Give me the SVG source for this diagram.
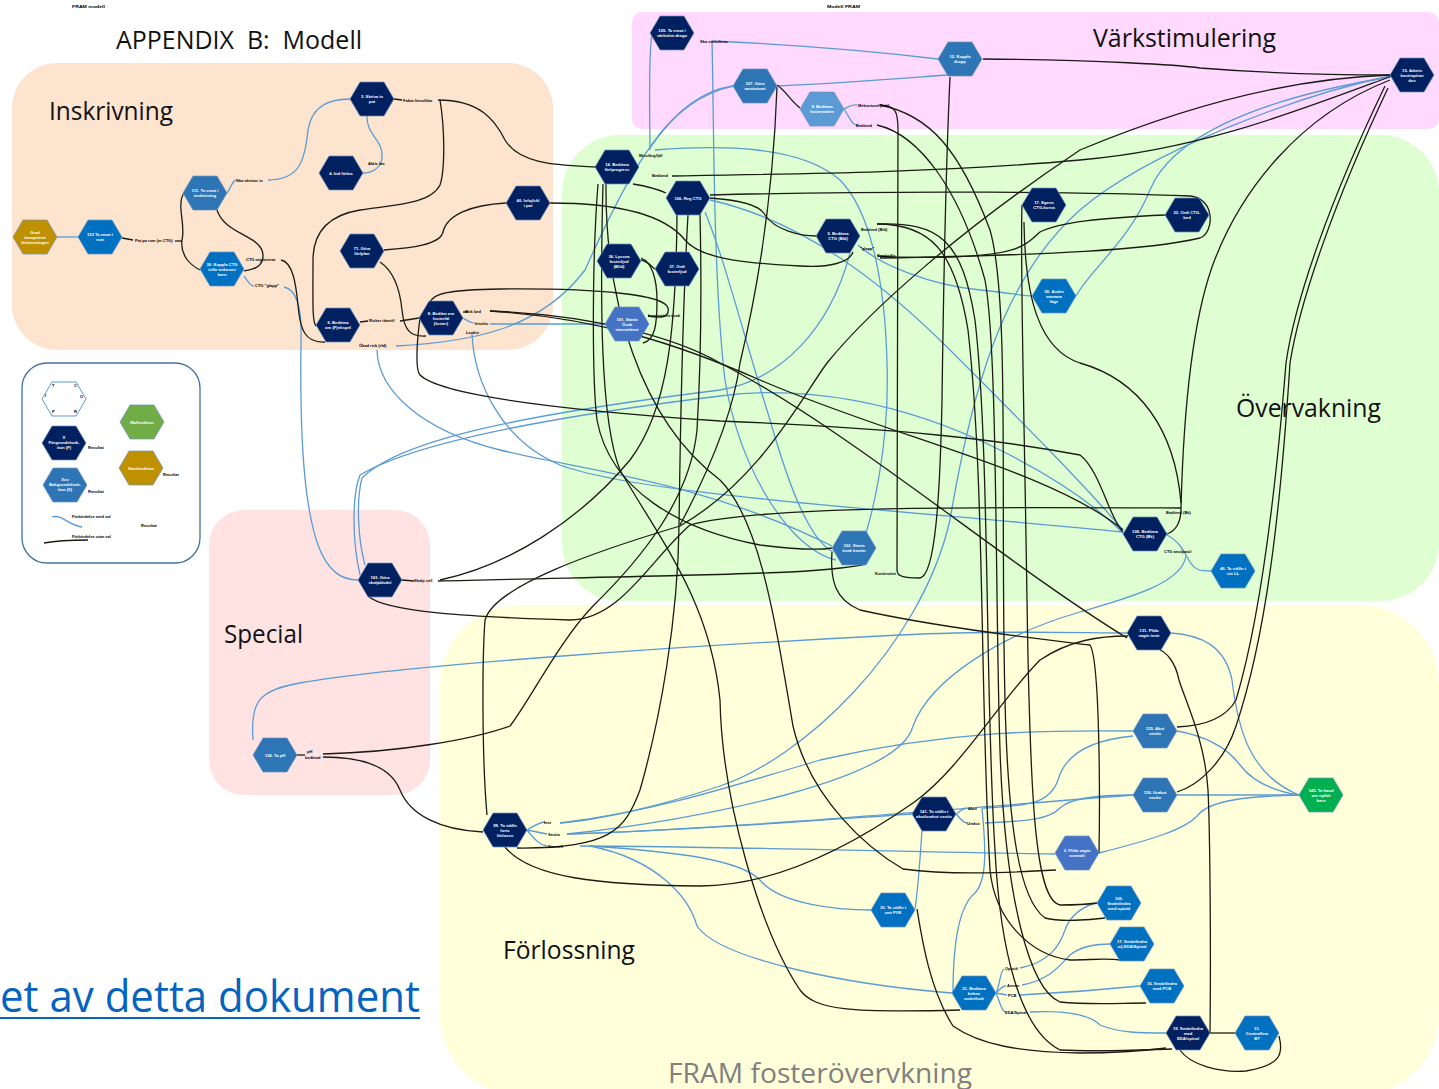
<svg xmlns="http://www.w3.org/2000/svg" xmlns:xlink="http://www.w3.org/1999/xlink" width="1439" height="1089" viewBox="0 0 1439 1089">
<style>
.k{fill:none;stroke:#1c1c14;stroke-width:1.3}
.b{fill:none;stroke:#5B9BD5;stroke-width:1.3}
.hx{stroke:#6f93bf;stroke-width:0.7}
.navy{fill:#002060}.c1{fill:#2E75B6}.c2{fill:#0070C0}.c3{fill:#4472C4}.c4{fill:#5B9BD5}.grn{fill:#00B050}.lg{fill:#70AD47}.gold{fill:#BF9000}
.n{font-family:"Liberation Sans",Arial,sans-serif;font-size:4.2px;font-weight:bold;fill:#fff;text-anchor:middle}
.l{font-family:"Liberation Sans",Arial,sans-serif;font-size:4px;font-weight:bold;fill:#000}
.h{font-family:"Open Sans","Liberation Sans",sans-serif;fill:#111}
</style>
<defs>
<polygon id="hx" points="-22,0 -12,-17 12,-17 22,0 12,17 -12,17"/>
</defs>
<rect width="1439" height="1089" fill="#fff"/>
<g id="regions">
<rect x="12" y="63" width="541" height="287" rx="45" fill="#FCE4CE"/>
<rect x="632" y="12" width="807" height="117" rx="10" fill="#FFD9FF"/>
<rect x="562" y="135" width="877" height="466" rx="58" fill="#DFFFD3"/>
<rect x="209" y="510" width="221" height="285" rx="35" fill="#FFE3E3"/>
<rect x="440" y="605" width="999" height="490" rx="80" fill="#FFFFDA"/>
<rect x="22" y="363" width="178" height="200" rx="25" fill="#fff" stroke="#41719C" stroke-width="1.3"/>
</g>
<g id="titles">
<text class="h" x="116" y="49" font-size="26" xml:space="preserve" textLength="246" lengthAdjust="spacingAndGlyphs">APPENDIX  B:  Modell</text>
<text class="h" x="49" y="120" font-size="26" textLength="124" lengthAdjust="spacingAndGlyphs">Inskrivning</text>
<text class="h" x="1093" y="47" font-size="26" textLength="183" lengthAdjust="spacingAndGlyphs">Värkstimulering</text>
<text class="h" x="1236" y="417" font-size="26" textLength="145" lengthAdjust="spacingAndGlyphs">Övervakning</text>
<text class="h" x="224" y="643" font-size="26" textLength="79" lengthAdjust="spacingAndGlyphs">Special</text>
<text class="h" x="503" y="959" font-size="26" textLength="132" lengthAdjust="spacingAndGlyphs">Förlossning</text>
<text class="h" x="668" y="1083" font-size="27" style="fill:#808080" textLength="304" lengthAdjust="spacingAndGlyphs">FRAM fosterövervkning</text>
<text class="h" x="0" y="1012" font-size="44" style="fill:#0563C1" textLength="420" lengthAdjust="spacingAndGlyphs">et av detta dokument</text>
<line x1="0" y1="1018" x2="420" y2="1018" stroke="#0563C1" stroke-width="2"/>
<text class="l" x="72" y="8" font-size="3" textLength="33" lengthAdjust="spacingAndGlyphs">FRAM modell</text>
<text class="l" x="827" y="8" font-size="3" textLength="33" lengthAdjust="spacingAndGlyphs">Modell FRAM</text>
</g>
<g id="connectors">
<path class="b" d="M57,237 L78,237"/>
<path class="b" d="M227,193 C231,188 232,181 236,180"/>
<path class="b" d="M268,180 C300,180 305,160 308,130 C312,105 330,99 350,99"/>
<path class="b" d="M367,116 C366,135 384,140 382,158 C381,168 372,173 363,173"/>
<path class="b" d="M244,276 C249,283 251,286 254,286"/>
<path class="b" d="M284,287 C298,290 302,310 301,340 C300,420 302,500 318,545 C328,572 342,580 358,580"/>
<path class="b" d="M396,346 C470,342 540,330 585,270 C630,170 670,95 733,86"/>
<path class="b" d="M463,318 C468,321 470,323 474,323"/>
<path class="b" d="M490,324 L605,324"/>
<path class="b" d="M472,334 C474,380 500,440 560,465 C640,495 900,510 1123,532"/>
<path class="b" d="M377,350 C378,390 420,430 500,450 C580,470 700,480 832,546"/>
<path class="b" d="M652,33 C648,60 650,130 650,150"/>
<path class="b" d="M650,148 C665,125 690,95 733,86"/>
<path class="b" d="M712,41 C800,45 880,52 938,59"/>
<path class="b" d="M712,41 C714,120 713,280 725,380 C740,470 790,550 836,560"/>
<path class="b" d="M777,86 C830,84 880,80 948,75"/>
<path class="b" d="M844,109 C850,106 852,104 857,105"/>
<path class="b" d="M844,109 C850,118 852,125 857,125"/>
<path class="b" d="M1390,76 C1300,95 1150,150 1080,210 C1000,280 970,400 950,520 C920,650 800,760 720,786 C660,806 600,820 560,823"/>
<path class="b" d="M1390,77 C1250,100 1170,140 1150,190 C1130,240 1090,270 1076,296"/>
<path class="b" d="M858,245 C880,265 930,285 980,290 C1010,293 1025,296 1032,296"/>
<path class="b" d="M655,150 C720,145 800,145 840,180 C870,210 885,280 887,363 C890,450 870,520 866,533"/>
<path class="b" d="M710,200 C800,220 880,280 950,350 C1020,420 1080,480 1123,530"/>
<path class="b" d="M1167,535 C1182,543 1186,556 1190,562 C1195,570 1200,571 1211,571"/>
<path class="b" d="M1186,556 C1182,585 1120,600 1080,612 C1000,635 930,680 913,726 C900,780 700,820 567,834"/>
<path class="b" d="M365,565 C358,540 356,500 362,478 C400,440 520,415 720,390 C780,380 830,330 850,253"/>
<path class="b" d="M360,575 C352,540 352,495 360,475 C410,445 540,418 720,396 C800,385 900,400 1000,450 C1060,480 1100,510 1123,533"/>
<path class="b" d="M705,212 C725,260 745,340 770,420 C790,490 810,540 833,552"/>
<path class="b" d="M253,740 C250,700 260,690 300,683 C400,665 700,645 900,635 C1000,630 1080,633 1127,633"/>
<path class="b" d="M560,823 C650,812 720,790 820,760 C950,730 1050,730 1133,731"/>
<path class="b" d="M567,834 C700,830 850,818 912,814"/>
<path class="b" d="M567,834 C750,828 1000,805 1133,795"/>
<path class="b" d="M580,846 C700,846 900,852 1055,854"/>
<path class="b" d="M590,846 C680,852 740,860 760,880 C780,905 840,910 871,910"/>
<path class="b" d="M590,846 C660,860 690,900 697,926 C720,960 850,985 952,993"/>
<path class="b" d="M956,814 C962,810 963,808 967,808"/>
<path class="b" d="M956,814 C962,820 963,823 967,823"/>
<path class="b" d="M983,808 C1030,806 1050,803 1058,780 C1065,755 1090,740 1133,736"/>
<path class="b" d="M985,823 C1030,821 1050,819 1060,808 C1070,798 1100,795 1133,795"/>
<path class="b" d="M922,831 C920,860 918,890 915,909"/>
<path class="b" d="M982,808 C986,850 987,880 975,893 C960,905 953,940 953,993"/>
<path class="b" d="M996,993 C1000,985 1000,971 1004,969"/>
<path class="b" d="M996,993 C1000,989 1002,986 1006,986"/>
<path class="b" d="M996,993 L1007,995"/>
<path class="b" d="M996,993 C1000,1002 1001,1010 1005,1012"/>
<path class="b" d="M1020,968 C1050,962 1060,945 1065,930 C1070,915 1085,905 1097,903"/>
<path class="b" d="M1022,985 C1050,980 1060,965 1070,955 C1080,947 1095,944 1110,944"/>
<path class="b" d="M1020,995 C1060,993 1100,990 1140,986"/>
<path class="b" d="M1030,1012 C1070,1010 1090,1015 1100,1025 C1120,1033 1140,1033 1166,1033"/>
<path class="b" d="M1177,731 C1200,735 1225,745 1240,765 C1255,785 1280,792 1299,795"/>
<path class="b" d="M1177,795 L1299,795"/>
<path class="b" d="M1099,853 C1150,840 1185,830 1198,815 C1210,800 1250,796 1299,795"/>
<path class="b" d="M1171,633 C1200,635 1225,645 1232,680 C1238,730 1250,775 1299,795"/>
<path class="b" d="M527,830 C535,825 540,822 545,822"/>
<path class="b" d="M527,830 L547,834"/>
<path class="b" d="M527,830 C535,840 540,845 547,846"/>
<path class="k" d="M122,238 L133,240"/>
<path class="k" d="M175,241 L182,241"/>
<path class="k" d="M184,193 C176,205 186,225 182,240 C180,255 190,265 200,270"/>
<path class="k" d="M217,210 C225,235 262,235 263,255 C264,268 250,270 244,271"/>
<path class="k" d="M281,260 C293,262 296,285 298,305 C300,330 305,343 325,342"/>
<path class="k" d="M394,99 L402,100"/>
<path class="k" d="M438,100 C480,100 495,120 505,140 C520,165 560,165 596,167"/>
<path class="k" d="M440,100 C445,130 445,170 440,185 C430,205 390,205 360,210 C330,215 313,230 313,260 C313,300 312,322 316,326"/>
<path class="k" d="M384,250 C410,248 440,245 443,232 C447,215 470,205 506,203"/>
<path class="k" d="M380,262 C395,272 400,290 402,310 C404,330 410,337 426,336"/>
<path class="k" d="M360,322 L368,321"/>
<path class="k" d="M400,321 L419,318"/>
<path class="k" d="M550,203 C620,203 665,215 685,240 C700,258 740,263 800,266 C830,268 850,262 853,252"/>
<path class="k" d="M430,303 C432,293 450,290 500,289 C600,288 665,295 668,308 C670,318 660,318 648,316"/>
<path class="k" d="M420,318 C417,340 415,370 420,375 C440,395 560,410 720,421 C900,428 1000,440 1080,455 C1100,470 1110,520 1123,532"/>
<path class="k" d="M490,311 C600,315 680,340 720,363 C850,430 1000,560 1127,638"/>
<path class="k" d="M490,311 C600,318 680,345 760,380 C900,440 1050,470 1123,530"/>
<path class="k" d="M463,312 L468,312"/>
<path class="k" d="M633,184 C645,186 655,188 666,193"/>
<path class="k" d="M672,176 C800,174 950,172 1080,160 C1200,150 1300,110 1392,76"/>
<path class="k" d="M710,195 C900,190 1100,192 1190,196 C1215,198 1215,232 1200,238 C1150,250 1050,255 880,258"/>
<path class="k" d="M710,198 C740,200 760,205 765,215 C775,230 800,236 816,236"/>
<path class="k" d="M1165,215 C1100,218 1060,222 1040,232 C1025,245 1020,255 950,257 C900,258 885,257 878,256"/>
<path class="k" d="M598,184 C592,260 592,380 597,420 C610,490 680,530 760,545 C800,550 820,550 832,548"/>
<path class="k" d="M603,184 C600,300 600,420 620,470 C660,540 710,600 720,700 C722,800 760,930 800,990 C815,1010 850,1013 960,1010"/>
<path class="k" d="M606,184 C605,300 640,420 720,480 C760,520 775,620 793,726 C810,800 870,850 903,869 C950,875 1000,873 1056,870"/>
<path class="k" d="M688,215 C683,300 680,450 679,526 C678,620 660,720 640,790 C625,830 610,849 517,848"/>
<path class="k" d="M700,214 C702,300 700,380 697,430 C690,500 640,560 593,606 C560,640 530,700 510,726 C470,740 400,752 323,754"/>
<path class="k" d="M323,757 C360,757 390,765 400,790 C410,815 440,830 483,832"/>
<path class="k" d="M438,581 C550,578 700,576 790,572 C830,570 860,566 866,564"/>
<path class="k" d="M440,580 C510,565 580,520 630,460 C668,410 676,330 677,215"/>
<path class="k" d="M368,596 C385,612 470,617 570,620 C620,620 650,560 690,525 C760,505 1000,507 1181,508"/>
<path class="k" d="M1181,508 C1183,430 1190,330 1212,267 C1240,190 1300,115 1390,80"/>
<path class="k" d="M1385,86 C1330,200 1295,300 1286,363 C1275,500 1260,620 1236,700 C1225,720 1200,726 1177,727"/>
<path class="k" d="M1388,88 C1335,200 1300,300 1290,363 C1280,520 1265,640 1236,726 C1225,760 1200,785 1177,792"/>
<path class="k" d="M1167,534 C1178,530 1181,520 1181,508"/>
<path class="k" d="M487,815 C482,760 482,660 485,620 C495,585 600,550 680,526 C760,480 800,400 827,363 C870,310 960,230 1080,150 C1200,100 1300,78 1390,75"/>
<path class="k" d="M505,847 C530,878 600,885 700,886 C780,886 860,840 913,803 C960,770 1000,700 1040,660 C1070,640 1100,636 1128,636"/>
<path class="k" d="M777,87 C774,170 763,267 740,363 C735,400 720,450 680,525"/>
<path class="k" d="M777,85 C785,90 790,100 800,108"/>
<path class="k" d="M983,59 C1100,60 1180,65 1200,68 C1250,72 1330,75 1390,75"/>
<path class="k" d="M880,105 C895,106 898,110 898,130 L897,570 C897,577 905,578 920,578 C935,575 940,500 942,400 C944,250 948,120 950,77"/>
<path class="k" d="M880,105 C930,115 960,150 990,230 C1010,300 1000,500 1005,700 C1008,830 1020,900 1045,918 C1060,922 1090,920 1105,918"/>
<path class="k" d="M877,125 C920,135 960,190 985,280 C998,350 995,600 1000,750 C1005,900 1030,990 1060,1002 C1090,1005 1120,1003 1146,1003"/>
<path class="k" d="M877,224 C940,222 962,240 975,320 C990,450 985,700 995,850 C1000,950 1020,1030 1060,1050 C1100,1052 1140,1050 1172,1049"/>
<path class="k" d="M877,224 C930,224 955,250 968,330 C985,480 980,700 990,870 C995,920 1030,955 1070,960 C1090,960 1105,958 1120,960"/>
<path class="k" d="M1024,222 C1025,300 1040,350 1080,363 C1140,380 1175,430 1181,503"/>
<path class="k" d="M1022,205 C1020,260 1024,400 1027,600 C1030,800 1035,900 1060,905 C1080,905 1090,904 1097,903"/>
<path class="k" d="M832,552 C830,580 835,600 860,610 C950,630 1050,640 1090,645 C1100,660 1100,800 1099,853"/>
<path class="k" d="M641,260 C650,262 652,268 655,269"/>
<path class="k" d="M641,258 C652,262 657,280 657,300 C657,325 655,340 643,343"/>
<path class="k" d="M917,909 C922,940 930,990 953,1026 C980,1045 1020,1052 1080,1053 C1120,1053 1150,1050 1166,1048"/>
<path class="k" d="M1210,1033 L1235,1033"/>
<path class="k" d="M1279,1036 C1284,1055 1280,1065 1246,1071 C1220,1073 1190,1065 1180,1050"/>
<path class="k" d="M1210,1033 C1211,950 1210,830 1208,790 C1205,740 1185,700 1179,680 C1175,660 1165,652 1160,650"/>
<path class="k" d="M402,580 L414,581"/>
<path class="k" d="M297,755 L305,755"/>
<path class="b" d="M52,517 C62,514 68,525 82,527"/>
<path class="k" d="M44,543 C60,540 75,540 88,540"/>
</g>
<g id="labels">
<text class="l" x="135" y="242">Pat på rum (m CTG)</text>
<text class="l" x="236" y="182">Ska skrivas in</text>
<text class="l" x="246" y="261">CTG registrerat</text>
<text class="l" x="255" y="287">CTG "glapp"</text>
<text class="l" x="403" y="102">Fakta finns/klar</text>
<text class="l" x="368" y="165">Aktiv fas</text>
<text class="l" x="369" y="322">Risker identif</text>
<text class="l" x="359" y="347">Ökad risk (rfd)</text>
<text class="l" x="465" y="313">Mvk bed</text>
<text class="l" x="475" y="325">Intuitiv</text>
<text class="l" x="466" y="334">Lockin</text>
<text class="l" x="648" y="317">Intermittent övak</text>
<text class="l" x="639" y="157">Missfärg/fjäl</text>
<text class="l" x="652" y="177">Bedömd</text>
<text class="l" x="700" y="43">Ska stimuleras</text>
<text class="l" x="858" y="107">Mekonium/fjäskl</text>
<text class="l" x="856" y="127">Bedömd</text>
<text class="l" x="861" y="231">Bedömd (Bld)</text>
<text class="l" x="860" y="250">"glapp"</text>
<text class="l" x="877" y="257">Kontin/fix</text>
<text class="l" x="1166" y="514">Bedömd (Bk)</text>
<text class="l" x="1164" y="553">CTG ano/patol</text>
<text class="l" x="875" y="575">Kontinuitet</text>
<text class="l" x="414" y="582">Skalp sell</text>
<text class="l" x="307" y="753">pH</text>
<text class="l" x="305" y="759">bedömd</text>
<text class="l" x="544" y="824">Inst</text>
<text class="l" x="548" y="836">Sectio</text>
<text class="l" x="548" y="848">Normell</text>
<text class="l" x="968" y="810">Akut</text>
<text class="l" x="967" y="825">Urakut</text>
<text class="l" x="1005" y="970">Opioid</text>
<text class="l" x="1007" y="987">Annan</text>
<text class="l" x="1008" y="997">PCB</text>
<text class="l" x="1005" y="1014">EDA/Spinal</text>
<text class="l" x="88" y="449">Resultat</text>
<text class="l" x="88" y="493">Resultat</text>
<text class="l" x="163" y="476">Resultat</text>
<text class="l" x="141" y="527">Resultat</text>
<text class="l" x="72" y="518">Förbindelse med val</text>
<text class="l" x="72" y="538">Förbindelse utan val</text>
</g>
<g id="legend">
<g id="lg-tcio" transform="translate(64,399)"><use href="#hx" fill="#fff" stroke="#5B9BD5" stroke-width="1"/>
<text class="l" x="-12" y="-12" font-size="3.5">T</text><text class="l" x="10" y="-12" font-size="3.5">C</text><text class="l" x="-19" y="-2" font-size="3.5">I</text><text class="l" x="16" y="-1" font-size="3.5">O</text><text class="l" x="-12" y="14" font-size="3.5">P</text><text class="l" x="10" y="14" font-size="3.5">R</text></g>
<g id="lg-f" transform="translate(64,443)"><use href="#hx" class="navy hx"/><text class="n"><tspan x="0" y="-4">X</tspan><tspan x="0" y="1">Förgrundsfunk-</tspan><tspan x="0" y="6">tion (F)</tspan></text></g>
<g id="lg-s" transform="translate(65,485)"><use href="#hx" class="c1 hx"/><text class="n"><tspan x="0" y="-4">Xxx</tspan><tspan x="0" y="1">Bakgrundsfunk-</tspan><tspan x="0" y="6">tion (S)</tspan></text></g>
<g id="lg-m" transform="translate(142,422)"><use href="#hx" class="lg hx"/><text class="n"><tspan x="0" y="1.5">Målfunktion</tspan></text></g>
<g id="lg-st" transform="translate(141,468)"><use href="#hx" class="gold hx"/><text class="n"><tspan x="0" y="1.5">Startfunktion</tspan></text></g>
</g>
<g id="nodes">
<g id="nStart" transform="translate(35,237)"><use href="#hx" class="gold hx"/><text class="n"><tspan x="0" y="-3.5">Grad</tspan><tspan x="0" y="1.5">kompetent</tspan><tspan x="0" y="6.5">förlossningen</tspan></text></g>
<g id="n110" transform="translate(100,237)"><use href="#hx" class="c2 hx"/><text class="n"><tspan x="0" y="-1">110 Ta emot i</tspan><tspan x="0" y="4">rum</tspan></text></g>
<g id="n111" transform="translate(205,193)"><use href="#hx" class="c1 hx"/><text class="n"><tspan x="0" y="-1">111. Ta emot i</tspan><tspan x="0" y="4">inskrivning</tspan></text></g>
<g id="n30" transform="translate(222,269)"><use href="#hx" class="c2 hx"/><text class="n"><tspan x="0" y="-3.5">30. Koppla CTG</tspan><tspan x="0" y="1.5">inför ankomst</tspan><tspan x="0" y="6.5">barn</tspan></text></g>
<g id="n3" transform="translate(372,99)"><use href="#hx" class="navy hx"/><text class="n"><tspan x="0" y="-1">3. Skriva in</tspan><tspan x="0" y="4">pat</tspan></text></g>
<g id="n4" transform="translate(341,173)"><use href="#hx" class="navy hx"/><text class="n"><tspan x="0" y="1.5">4. Ind förlos</tspan></text></g>
<g id="n71" transform="translate(362,251)"><use href="#hx" class="navy hx"/><text class="n"><tspan x="0" y="-1">71. Göra</tspan><tspan x="0" y="4">förlplan</tspan></text></g>
<g id="n40" transform="translate(528,203)"><use href="#hx" class="navy hx"/><text class="n"><tspan x="0" y="-1">40. Infoj/skl</tspan><tspan x="0" y="4">i pat</tspan></text></g>
<g id="n6" transform="translate(338,325)"><use href="#hx" class="navy hx"/><text class="n"><tspan x="0" y="-1">6. Bedöma</tspan><tspan x="0" y="4">om (F)nkspel</tspan></text></g>
<g id="n8" transform="translate(441,318)"><use href="#hx" class="navy hx"/><text class="n"><tspan x="0" y="-3.5">8. Bedöm om</tspan><tspan x="0" y="1.5">fosterläl</tspan><tspan x="0" y="6.5">(foster)</tspan></text></g>
<g id="n101" transform="translate(627,324)"><use href="#hx" class="c3 hx"/><text class="n"><tspan x="0" y="-3.5">101. Starta</tspan><tspan x="0" y="1.5">Övak</tspan><tspan x="0" y="6.5">intermittent</tspan></text></g>
<g id="n14" transform="translate(617,167)"><use href="#hx" class="navy hx"/><text class="n"><tspan x="0" y="-1">14. Bedöma</tspan><tspan x="0" y="4">förlprogress</tspan></text></g>
<g id="n106" transform="translate(688,198)"><use href="#hx" class="navy hx"/><text class="n"><tspan x="0" y="1.5">106. Reg CTG</tspan></text></g>
<g id="n36" transform="translate(619,261)"><use href="#hx" class="navy hx"/><text class="n"><tspan x="0" y="-3.5">36. Lyssna</tspan><tspan x="0" y="1.5">fosterljud</tspan><tspan x="0" y="6.5">(Bild)</tspan></text></g>
<g id="n37" transform="translate(677,269)"><use href="#hx" class="navy hx"/><text class="n"><tspan x="0" y="-1">37. Ordi</tspan><tspan x="0" y="4">fosterljud</tspan></text></g>
<g id="n105" transform="translate(672,33)"><use href="#hx" class="navy hx"/><text class="n"><tspan x="0" y="-1">105. Ta emot i</tspan><tspan x="0" y="4">värkstim drogo</tspan></text></g>
<g id="n107" transform="translate(755,86)"><use href="#hx" class="c1 hx"/><text class="n"><tspan x="0" y="-1">107. Göra</tspan><tspan x="0" y="4">amniotomi</tspan></text></g>
<g id="n9" transform="translate(822,109)"><use href="#hx" class="c4 hx"/><text class="n"><tspan x="0" y="-1">9. Bedöma</tspan><tspan x="0" y="4">fostervatten</tspan></text></g>
<g id="n12" transform="translate(960,59)"><use href="#hx" class="c1 hx"/><text class="n"><tspan x="0" y="-1">12. Koppla</tspan><tspan x="0" y="4">dropp</tspan></text></g>
<g id="n15" transform="translate(1412,75)"><use href="#hx" class="navy hx"/><text class="n"><tspan x="0" y="-3.5">15. Admin</tspan><tspan x="0" y="1.5">kontraption</tspan><tspan x="0" y="6.5">dos</tspan></text></g>
<g id="n5" transform="translate(838,236)"><use href="#hx" class="navy hx"/><text class="n"><tspan x="0" y="-1">5. Bedöma</tspan><tspan x="0" y="4">CTG (Bld)</tspan></text></g>
<g id="n17" transform="translate(1044,205)"><use href="#hx" class="navy hx"/><text class="n"><tspan x="0" y="-1">17. Egens</tspan><tspan x="0" y="4">CTG-kurva</tspan></text></g>
<g id="n22" transform="translate(1187,215)"><use href="#hx" class="navy hx"/><text class="n"><tspan x="0" y="-1">22. Ordi CTG-</tspan><tspan x="0" y="4">bed</tspan></text></g>
<g id="n50" transform="translate(1054,296)"><use href="#hx" class="c2 hx"/><text class="n"><tspan x="0" y="-3.5">50. Ändra</tspan><tspan x="0" y="1.5">mamma</tspan><tspan x="0" y="6.5">läge</tspan></text></g>
<g id="n102" transform="translate(854,548)"><use href="#hx" class="c1 hx"/><text class="n"><tspan x="0" y="-1">102. Starta</tspan><tspan x="0" y="4">övak kontin</tspan></text></g>
<g id="n108" transform="translate(1145,534)"><use href="#hx" class="navy hx"/><text class="n"><tspan x="0" y="-1">108. Bedöma</tspan><tspan x="0" y="4">CTG (Bk)</tspan></text></g>
<g id="n46" transform="translate(1233,571)"><use href="#hx" class="c2 hx"/><text class="n"><tspan x="0" y="-1">46. Ta ställn t</tspan><tspan x="0" y="4">sin LL</tspan></text></g>
<g id="n103" transform="translate(380,580)"><use href="#hx" class="navy hx"/><text class="n"><tspan x="0" y="-1">103. Göra</tspan><tspan x="0" y="4">skalpblodsl</tspan></text></g>
<g id="n134" transform="translate(275,755)"><use href="#hx" class="c1 hx"/><text class="n"><tspan x="0" y="1.5">134. Ta pH</tspan></text></g>
<g id="n131" transform="translate(1149,633)"><use href="#hx" class="navy hx"/><text class="n"><tspan x="0" y="-1">131. Pilda</tspan><tspan x="0" y="4">vagin instr</tspan></text></g>
<g id="n135" transform="translate(1155,731)"><use href="#hx" class="c1 hx"/><text class="n"><tspan x="0" y="-1">135. Akut</tspan><tspan x="0" y="4">sectio</tspan></text></g>
<g id="n136" transform="translate(1155,795)"><use href="#hx" class="c1 hx"/><text class="n"><tspan x="0" y="-1">136. Urakut</tspan><tspan x="0" y="4">sectio</tspan></text></g>
<g id="n145" transform="translate(1321,795)"><use href="#hx" class="grn hx"/><text class="n"><tspan x="0" y="-3.5">145. Ta hand</tspan><tspan x="0" y="1.5">om nyfött</tspan><tspan x="0" y="6.5">barn</tspan></text></g>
<g id="n2" transform="translate(1077,853)"><use href="#hx" class="c3 hx"/><text class="n"><tspan x="0" y="-1">2. Pilda vagin</tspan><tspan x="0" y="4">normalt</tspan></text></g>
<g id="n99" transform="translate(505,830)"><use href="#hx" class="navy hx"/><text class="n"><tspan x="0" y="-3.5">99. Ta ställn</tspan><tspan x="0" y="1.5">forts</tspan><tspan x="0" y="6.5">förlossn</tspan></text></g>
<g id="n141" transform="translate(934,814)"><use href="#hx" class="navy hx"/><text class="n"><tspan x="0" y="-1">141. Ta ställn t</tspan><tspan x="0" y="4">akut/urakut sectio</tspan></text></g>
<g id="n33" transform="translate(893,910)"><use href="#hx" class="c2 hx"/><text class="n"><tspan x="0" y="-1">33. Ta ställn t</tspan><tspan x="0" y="4">smt PVK</tspan></text></g>
<g id="n21" transform="translate(974,993)"><use href="#hx" class="c2 hx"/><text class="n"><tspan x="0" y="-3.5">21. Bedöma</tspan><tspan x="0" y="1.5">behov</tspan><tspan x="0" y="6.5">smärtlindr</tspan></text></g>
<g id="n100" transform="translate(1119,903)"><use href="#hx" class="c2 hx"/><text class="n"><tspan x="0" y="-3.5">100.</tspan><tspan x="0" y="1.5">Smärtlindra</tspan><tspan x="0" y="6.5">med opioid</tspan></text></g>
<g id="n17b" transform="translate(1132,944)"><use href="#hx" class="c2 hx"/><text class="n"><tspan x="0" y="-1">17. Smärtlindra</tspan><tspan x="0" y="4">m) EDA/Spinal</tspan></text></g>
<g id="n16" transform="translate(1162,986)"><use href="#hx" class="c2 hx"/><text class="n"><tspan x="0" y="-1">16. Smärtlindra</tspan><tspan x="0" y="4">med PCB</tspan></text></g>
<g id="n19" transform="translate(1188,1033)"><use href="#hx" class="navy hx"/><text class="n"><tspan x="0" y="-3.5">19. Smärtlindra</tspan><tspan x="0" y="1.5">med</tspan><tspan x="0" y="6.5">EDA/spinal</tspan></text></g>
<g id="n31" transform="translate(1257,1033)"><use href="#hx" class="c2 hx"/><text class="n"><tspan x="0" y="-3.5">31.</tspan><tspan x="0" y="1.5">Controllera</tspan><tspan x="0" y="6.5">BT</tspan></text></g>
</g>
</svg>
